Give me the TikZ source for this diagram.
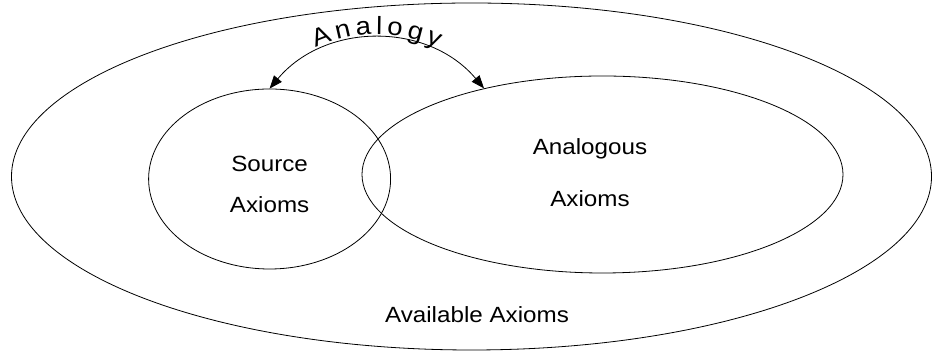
\documentclass[tikz,border=0pt]{standalone}
\usepackage{fontspec}
\setmainfont{Liberation Sans}[FakeStretch=1.1]
\usetikzlibrary{shapes.geometric,arrows.meta,decorations.text}
\begin{document}
\begin{tikzpicture}[x=1pt,y=1pt,
  ring/.style={draw=black,line width=0.8pt,ellipse,inner sep=0pt},
  lbl/.style={font=\fontsize{22}{26}\selectfont,anchor=base,inner sep=0pt},
  tip/.style={{Triangle[length=13pt,width=10pt]}-{Triangle[length=13pt,width=10pt]}}]
\useasboundingbox (0,0) rectangle (932,352);
\node[ring,minimum width=920pt,minimum height=347pt] (outer) at (471.5,175.5) {};
\node[ring,minimum width=242pt,minimum height=180pt] (src) at (269.6,173) {};
\node[ring,minimum width=481pt,minimum height=197pt] (ana) at (602.5,177.5) {};
\node[lbl] (s1) at (269.6,180) {Source};
\node[lbl] (s2) at (269.6,139) {Axioms};
\node[lbl] (a1) at (590,197) {Analogous};
\node[lbl] (a2) at (590,145) {Axioms};
\node[lbl] (av) at (477,29) {Available Axioms};
\draw[line width=0.8pt,tip] (src.north) to[bend left=50,looseness=1.04] (ana.144);
\path[decorate,decoration={text along path,text align=center,raise=4pt,
  text={|\fontsize{25}{29}\selectfont\spaceskip=4pt\relax|A n a l o g y}}]
  (src.north) to[bend left=50,looseness=1.04] (ana.144);
\end{tikzpicture}
\end{document}
